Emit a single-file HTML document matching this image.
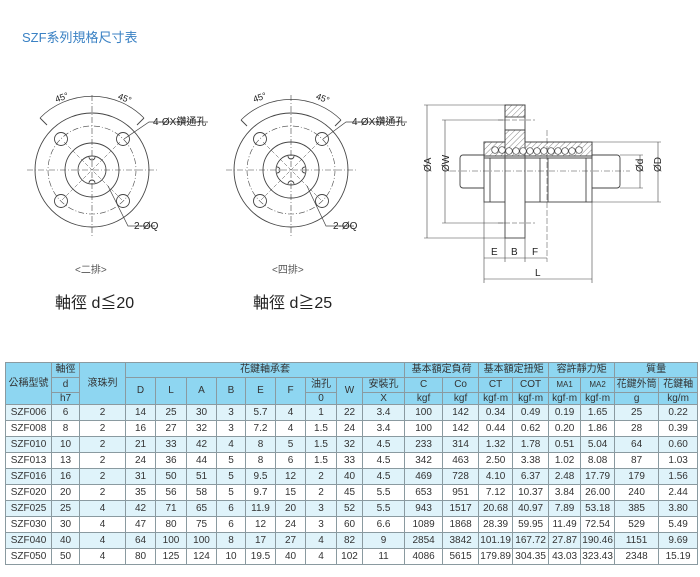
<!DOCTYPE html>
<html><head><meta charset="utf-8"><style>
body{margin:0;width:700px;height:577px;background:#fff;position:relative;overflow:hidden;font-family:"Liberation Sans","Noto Sans CJK TC",sans-serif}
.t{position:absolute;white-space:nowrap}
table{position:absolute;left:5px;top:362px;border-collapse:collapse;table-layout:fixed;width:692px;font-size:10px;color:#333}
td{border:1px solid #8a9aa0;text-align:center;padding:0;line-height:1;overflow:hidden;white-space:nowrap}
tr.h td{background:#8ed6f1;}
tr.h1{height:15px}tr.h2{height:15px}tr.h3{height:12px}
tr.d{height:16px}
tr.d:nth-child(even) td{background:#dff3fa}
tr.d:nth-child(odd) td{background:#fff}
</style></head><body>
<div class="t" style="left:22px;top:27px;font-size:13px;color:#3b82c4">SZF系列規格尺寸表</div>

<svg width="700" height="330" style="position:absolute;left:0;top:0" font-family="Liberation Sans, Noto Sans CJK TC, sans-serif">
<defs>
<pattern id="hat" width="4" height="4" patternUnits="userSpaceOnUse" patternTransform="rotate(45)"><line x1="0" y1="0" x2="0" y2="4" stroke="#666" stroke-width="0.8"/></pattern>
</defs>
<g fill="none" stroke="#444" stroke-width="0.9">
<g transform="translate(92,170)">
<circle r="57"/><circle r="44" stroke-dasharray="6,2,1,2" stroke-width="0.6"/><circle r="27"/><circle r="14"/>
<circle cx="-31" cy="-31" r="6.5"/><circle cx="31" cy="-31" r="6.5"/><circle cx="-31" cy="31" r="6.5"/><circle cx="31" cy="31" r="6.5"/>
<line x1="-65" y1="0" x2="65" y2="0" stroke-dasharray="6,2,1,2" stroke-width="0.6"/>
<line x1="0" y1="-75" x2="0" y2="68" stroke-dasharray="6,2,1,2" stroke-width="0.6"/>
<line x1="-28" y1="-28" x2="30" y2="30" stroke-dasharray="4,2" stroke-width="0.5"/>
<line x1="28" y1="-28" x2="-30" y2="30" stroke-dasharray="4,2" stroke-width="0.5"/>
<path d="M-52,-52 A73,73 0 0 1 52,-52" stroke-width="0.7"/>
<line x1="-52" y1="-52" x2="-45" y2="-45"/><line x1="52" y1="-52" x2="45" y2="-45"/>
<path d="M-3,-13 a3,3 0 0 0 6,0 M-3,13 a3,3 0 0 1 6,0"/>
<polyline points="32,-31 57,-48 116,-48" stroke-width="0.7"/>
<polyline points="16,16 36,56 63,56" stroke-width="0.7"/>
</g>
<g transform="translate(291,170)">
<circle r="57"/><circle r="44" stroke-dasharray="6,2,1,2" stroke-width="0.6"/><circle r="28"/><circle r="15"/>
<circle cx="-31" cy="-31" r="6.5"/><circle cx="31" cy="-31" r="6.5"/><circle cx="-31" cy="31" r="6.5"/><circle cx="31" cy="31" r="6.5"/>
<line x1="-65" y1="0" x2="65" y2="0" stroke-dasharray="6,2,1,2" stroke-width="0.6"/>
<line x1="0" y1="-75" x2="0" y2="68" stroke-dasharray="6,2,1,2" stroke-width="0.6"/>
<line x1="-28" y1="-28" x2="30" y2="30" stroke-dasharray="4,2" stroke-width="0.5"/>
<line x1="28" y1="-28" x2="-30" y2="30" stroke-dasharray="4,2" stroke-width="0.5"/>
<path d="M-50,-50 A71,71 0 0 1 50,-50" stroke-width="0.7"/>
<line x1="-50" y1="-50" x2="-44" y2="-44"/><line x1="50" y1="-50" x2="44" y2="-44"/>
<path d="M-3,-14 a3,3 0 0 0 6,0 M-3,14 a3,3 0 0 1 6,0 M-14,-3 a3,3 0 0 1 0,6 M14,-3 a3,3 0 0 0 0,6"/>
<polyline points="32,-31 55,-48 116,-48" stroke-width="0.7"/>
<polyline points="16,16 35,56 63,56" stroke-width="0.7"/>
</g>
<rect x="460" y="155" width="160" height="33" rx="3"/>
<rect x="484" y="142" width="108" height="60" fill="#fff"/>
<rect x="505" y="105" width="20" height="133" fill="#fff"/>
<rect x="505" y="105" width="20" height="12" fill="url(#hat)"/>
<path d="M505,130 H525 V142 H592 V156 H484 V142 H505 Z" fill="url(#hat)"/>
<line x1="484" y1="158" x2="592" y2="158"/>
<line x1="490" y1="158" x2="490" y2="202"/><line x1="586" y1="158" x2="586" y2="202"/>
<line x1="548" y1="158" x2="548" y2="202"/><line x1="540" y1="158" x2="540" y2="202"/>
<g fill="#fff" stroke-width="0.7">
<circle cx="495" cy="150" r="3.3"/><circle cx="502" cy="150" r="3.3"/><circle cx="509" cy="151" r="3.3"/><circle cx="516" cy="151" r="3.3"/><circle cx="523" cy="151" r="3.3"/><circle cx="530" cy="151" r="3.3"/><circle cx="537" cy="151" r="3.3"/><circle cx="544" cy="151" r="3.3"/><circle cx="551" cy="151" r="3.3"/><circle cx="558" cy="151" r="3.3"/><circle cx="565" cy="151" r="3.3"/><circle cx="572" cy="151" r="3.3"/><circle cx="579" cy="150" r="3.3"/>
</g>
<line x1="450" y1="171" x2="630" y2="171" stroke-dasharray="6,2,1,2" stroke-width="0.5"/>
<line x1="547" y1="130" x2="547" y2="262" stroke-dasharray="6,2" stroke-width="0.5"/>
<line x1="498" y1="120" x2="535" y2="120" stroke-dasharray="5,2" stroke-width="0.5"/>
<line x1="498" y1="223" x2="535" y2="223" stroke-dasharray="5,2" stroke-width="0.5"/>
<g stroke-width="0.6">
<line x1="424" y1="105" x2="505" y2="105"/><line x1="424" y1="238" x2="505" y2="238"/><line x1="427" y1="105" x2="427" y2="238"/>
<line x1="442" y1="120" x2="505" y2="120"/><line x1="442" y1="223" x2="505" y2="223"/><line x1="445" y1="120" x2="445" y2="223"/>
<line x1="592" y1="142" x2="661" y2="142"/><line x1="592" y1="202" x2="661" y2="202"/><line x1="658" y1="142" x2="658" y2="202"/>
<line x1="620" y1="155" x2="643" y2="155"/><line x1="620" y1="188" x2="643" y2="188"/><line x1="640" y1="155" x2="640" y2="188"/>
<line x1="484" y1="202" x2="484" y2="283"/><line x1="592" y1="202" x2="592" y2="283"/>
<line x1="505" y1="238" x2="505" y2="262"/><line x1="525" y1="238" x2="525" y2="262"/>
<line x1="484" y1="258" x2="547" y2="258"/><line x1="484" y1="279" x2="592" y2="279"/>
</g>
</g>
<g fill="#222" font-size="9">
<text x="55" y="101" transform="rotate(-20 60 98)">45°</text>
<text x="118" y="101" transform="rotate(20 124 98)">45°</text>
<text x="253" y="101" transform="rotate(-20 258 98)">45°</text>
<text x="316" y="101" transform="rotate(20 322 98)">45°</text>
<text x="153" y="125" font-size="10">4-ØX鑽通孔</text>
<text x="352" y="125" font-size="10">4-ØX鑽通孔</text>
<text x="134" y="229" font-size="10">2-ØQ</text>
<text x="333" y="229" font-size="10">2-ØQ</text>
<text x="75" y="273" font-size="10" fill="#555">&lt;二排&gt;</text>
<text x="272" y="273" font-size="10" fill="#555">&lt;四排&gt;</text>
<text x="55" y="308" font-size="16">軸徑  d≦20</text>
<text x="253" y="308" font-size="16">軸徑  d≧25</text>
<text x="424" y="179" font-size="10" transform="rotate(-90 424 172)">ØA</text>
<text x="442" y="179" font-size="10" transform="rotate(-90 442 172)">ØW</text>
<text x="637" y="178" font-size="10" transform="rotate(-90 637 172)">Ød</text>
<text x="655" y="178" font-size="10" transform="rotate(-90 655 172)">ØD</text>
<text x="491" y="255" font-size="10">E</text>
<text x="511" y="255" font-size="10">B</text>
<text x="532" y="255" font-size="10">F</text>
<text x="535" y="276" font-size="10">L</text>
</g>
</svg>

<table>
<colgroup><col style="width:46px"><col style="width:28px"><col style="width:46px"><col style="width:30px"><col style="width:31px"><col style="width:30px"><col style="width:29px"><col style="width:30px"><col style="width:30px"><col style="width:31px"><col style="width:26px"><col style="width:42px"><col style="width:38px"><col style="width:36px"><col style="width:34px"><col style="width:36px"><col style="width:32px"><col style="width:34px"><col style="width:44px"><col style="width:39px"></colgroup>
<tr class="h h1"><td rowspan="3">公稱型號</td><td>軸徑</td><td rowspan="3">滾珠列</td><td colspan="9">花鍵軸承套</td><td colspan="2">基本額定負荷</td><td colspan="2">基本額定扭矩</td><td colspan="2">容許靜力矩</td><td colspan="2">質量</td></tr>
<tr class="h h2"><td>d</td><td rowspan="2">D</td><td rowspan="2">L</td><td rowspan="2">A</td><td rowspan="2">B</td><td rowspan="2">E</td><td rowspan="2">F</td><td>油孔</td><td rowspan="2">W</td><td>安裝孔</td><td>C</td><td>Co</td><td>CT</td><td>COT</td><td style="font-size:8px">MA1</td><td style="font-size:8px">MA2</td><td>花鍵外筒</td><td>花鍵軸</td></tr>
<tr class="h h3"><td>h7</td><td>0</td><td>X</td><td>kgf</td><td>kgf</td><td>kgf·m</td><td>kgf·m</td><td>kgf·m</td><td>kgf·m</td><td>g</td><td>kg/m</td></tr>
<tr class="d"><td>SZF006</td><td>6</td><td>2</td><td>14</td><td>25</td><td>30</td><td>3</td><td>5.7</td><td>4</td><td>1</td><td>22</td><td>3.4</td><td>100</td><td>142</td><td>0.34</td><td>0.49</td><td>0.19</td><td>1.65</td><td>25</td><td>0.22</td></tr>
<tr class="d"><td>SZF008</td><td>8</td><td>2</td><td>16</td><td>27</td><td>32</td><td>3</td><td>7.2</td><td>4</td><td>1.5</td><td>24</td><td>3.4</td><td>100</td><td>142</td><td>0.44</td><td>0.62</td><td>0.20</td><td>1.86</td><td>28</td><td>0.39</td></tr>
<tr class="d"><td>SZF010</td><td>10</td><td>2</td><td>21</td><td>33</td><td>42</td><td>4</td><td>8</td><td>5</td><td>1.5</td><td>32</td><td>4.5</td><td>233</td><td>314</td><td>1.32</td><td>1.78</td><td>0.51</td><td>5.04</td><td>64</td><td>0.60</td></tr>
<tr class="d"><td>SZF013</td><td>13</td><td>2</td><td>24</td><td>36</td><td>44</td><td>5</td><td>8</td><td>6</td><td>1.5</td><td>33</td><td>4.5</td><td>342</td><td>463</td><td>2.50</td><td>3.38</td><td>1.02</td><td>8.08</td><td>87</td><td>1.03</td></tr>
<tr class="d"><td>SZF016</td><td>16</td><td>2</td><td>31</td><td>50</td><td>51</td><td>5</td><td>9.5</td><td>12</td><td>2</td><td>40</td><td>4.5</td><td>469</td><td>728</td><td>4.10</td><td>6.37</td><td>2.48</td><td>17.79</td><td>179</td><td>1.56</td></tr>
<tr class="d"><td>SZF020</td><td>20</td><td>2</td><td>35</td><td>56</td><td>58</td><td>5</td><td>9.7</td><td>15</td><td>2</td><td>45</td><td>5.5</td><td>653</td><td>951</td><td>7.12</td><td>10.37</td><td>3.84</td><td>26.00</td><td>240</td><td>2.44</td></tr>
<tr class="d"><td>SZF025</td><td>25</td><td>4</td><td>42</td><td>71</td><td>65</td><td>6</td><td>11.9</td><td>20</td><td>3</td><td>52</td><td>5.5</td><td>943</td><td>1517</td><td>20.68</td><td>40.97</td><td>7.89</td><td>53.18</td><td>385</td><td>3.80</td></tr>
<tr class="d"><td>SZF030</td><td>30</td><td>4</td><td>47</td><td>80</td><td>75</td><td>6</td><td>12</td><td>24</td><td>3</td><td>60</td><td>6.6</td><td>1089</td><td>1868</td><td>28.39</td><td>59.95</td><td>11.49</td><td>72.54</td><td>529</td><td>5.49</td></tr>
<tr class="d"><td>SZF040</td><td>40</td><td>4</td><td>64</td><td>100</td><td>100</td><td>8</td><td>17</td><td>27</td><td>4</td><td>82</td><td>9</td><td>2854</td><td>3842</td><td>101.19</td><td>167.72</td><td>27.87</td><td>190.46</td><td>1151</td><td>9.69</td></tr>
<tr class="d"><td>SZF050</td><td>50</td><td>4</td><td>80</td><td>125</td><td>124</td><td>10</td><td>19.5</td><td>40</td><td>4</td><td>102</td><td>11</td><td>4086</td><td>5615</td><td>179.89</td><td>304.35</td><td>43.03</td><td>323.43</td><td>2348</td><td>15.19</td></tr>
</table>
</body></html>
